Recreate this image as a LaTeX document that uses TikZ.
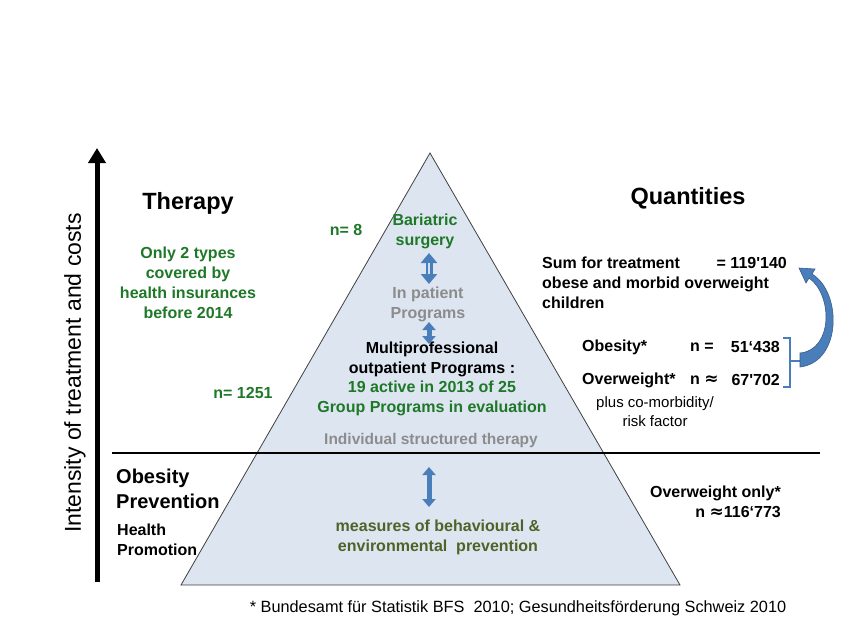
\documentclass[tikz,border=0pt]{standalone}
\usepackage{fontspec}
\setmainfont{Liberation Sans}
\newfontfamily\djv{DejaVu Sans}
\usetikzlibrary{arrows.meta}
\definecolor{tgreen}{RGB}{30,120,40}
\definecolor{olivetxt}{RGB}{79,98,40}
\definecolor{tgray}{RGB}{140,140,140}
\definecolor{trifill}{RGB}{221,229,241}
\definecolor{ablue}{RGB}{74,126,187}
\definecolor{dblue}{RGB}{56,93,138}
\newcommand{\apx}{{\djv\bfseries\fontsize{17}{20}\selectfont ≈}}
\begin{document}
\begin{tikzpicture}[x=1pt,y=-1pt,
  txt/.style={inner sep=0pt, align=center, font=\fontsize{16}{20}\selectfont\bfseries},
  big/.style={inner sep=0pt, align=center, font=\fontsize{23.5}{28}\selectfont\bfseries},
  mid/.style={inner sep=0pt, align=left, font=\fontsize{20}{25}\selectfont\bfseries},
  reg/.style={inner sep=0pt, align=center, font=\fontsize{15}{19}\selectfont},
  dblarrow/.style={ablue, line width=5pt, {Triangle[width=13pt,length=8pt]}-{Triangle[width=13pt,length=8pt]}},
]
\useasboundingbox (0,0) rectangle (850,638);
% pyramid
\coordinate (apex) at (430,153);
\coordinate (bl) at (181,585);
\coordinate (br) at (680,585);
\fill[trifill] (apex) -- (br) -- (bl) -- cycle;
\draw[black!75, line width=0.8pt] (apex) -- (br) -- (bl) -- cycle;
% axis
\coordinate (axb) at (97,582);
\coordinate (axt) at (97,148);
\draw[black, line width=5pt, -{Triangle[width=17pt,length=15pt]}] (axb) -- (axt);
\node[inner sep=0pt, rotate=90, font=\fontsize{23}{26}\selectfont] (axlabel) at (75,373) {Intensity of treatment and costs};
% separator
\coordinate (sepl) at (112,453);
\coordinate (sepr) at (820,453);
\draw[black, line width=2.5pt] (sepl) -- (sepr);
% headings
\node[big] (therapy) at (188,203) {Therapy};
\node[big] (quant) at (688,198) {Quantities};
% left texts
\node[txt, tgreen] (types) at (188,283) {Only 2 types\\covered by\\health insurances\\before 2014};
\node[txt, tgreen] (n8) at (346,230) {n= 8};
\node[txt, tgreen] (n1251) at (243,393) {n= 1251};
\node[mid, anchor=west] (prev) at (116,489) {Obesity\\Prevention};
\node[txt, align=left, anchor=west] (health) at (117,540) {Health\\Promotion};
% inside pyramid
\node[txt, tgreen] (bari) at (425,231) {Bariatric\\surgery};
\node[txt, tgray] (inpat) at (428,304) {In patient\\Programs};
\node[txt] (multi) at (432,359) {Multiprofessional\\outpatient Programs :};
\node[txt, tgreen] (group) at (432,398) {19 active in 2013 of 25\\Group Programs in evaluation};
\node[txt, tgray, font=\fontsize{15.5}{19}\selectfont\bfseries] (indiv) at (431,440) {Individual structured therapy};
\node[txt, olivetxt] (meas) at (438,537) {measures of behavioural \&\\environmental\ \ prevention};
% arrows in pyramid
\coordinate (a1t) at (429,253);
\coordinate (a1b) at (429,284);
\draw[ablue, line width=7pt, {Triangle[width=16pt,length=10pt]}-{Triangle[width=16pt,length=10pt]}] (a1b) -- (a1t);
\draw[white!75!ablue, line width=1.3pt] (429,263) -- (429,274);
\coordinate (a2t) at (429,322);
\coordinate (a2b) at (429,344);
\draw[dblarrow] (a2b) -- (a2t);
\coordinate (a3t) at (429,467);
\coordinate (a3b) at (429,507);
\draw[dblarrow] (a3b) -- (a3t);
% right texts
\node[txt, align=left, anchor=north west] (sum) at (542,257) {Sum for treatment\\obese and morbid overweight\\children};
\node[txt, anchor=north east] (sumval) at (787,257) {= 119\textquotesingle140};
\node[txt, anchor=west] (obes) at (582,347) {Obesity*};
\node[txt, anchor=west] (obesn) at (690,347) {n =};
\node[txt, anchor=east] (obesv) at (780,347) {51‘438};
\node[txt, anchor=west] (over) at (582,380) {Overweight*};
\node[txt, anchor=west] (overn) at (690,380) {n \apx};
\node[txt, anchor=east] (overv) at (780,380) {67\textquotesingle702};
\node[reg] (plus) at (655,412) {plus co-morbidity/\\risk factor};
\node[txt, align=right, anchor=east] (overonly) at (781,502) {Overweight only*\\n \apx116‘773};
% bracket and curved arrow
\coordinate (brt) at (783,338);
\coordinate (brb) at (783,387);
\coordinate (brm) at (790,361);
\coordinate (cstart) at (800,361);
\coordinate (cend) at (799,268);
\draw[ablue, line width=2pt] (brt) -- (790,338) -- (790,387) -- (brb);
\draw[ablue, line width=2pt] (brm) -- (cstart);
\fill[ablue, draw=dblue, line width=0.6pt] (800,367) .. controls (842,362) and (842,292) .. (812,274)
  -- (815,269) -- (cend) -- (806,283) -- (809,278) .. controls (833,295) and (833,350) .. (800,353) -- cycle;
% footer
\node[inner sep=0pt, font=\fontsize{16.3}{20}\selectfont] (foot) at (518,608) {* Bundesamt für Statistik BFS\ \ 2010; Gesundheitsförderung Schweiz 2010};
\end{tikzpicture}
\end{document}
